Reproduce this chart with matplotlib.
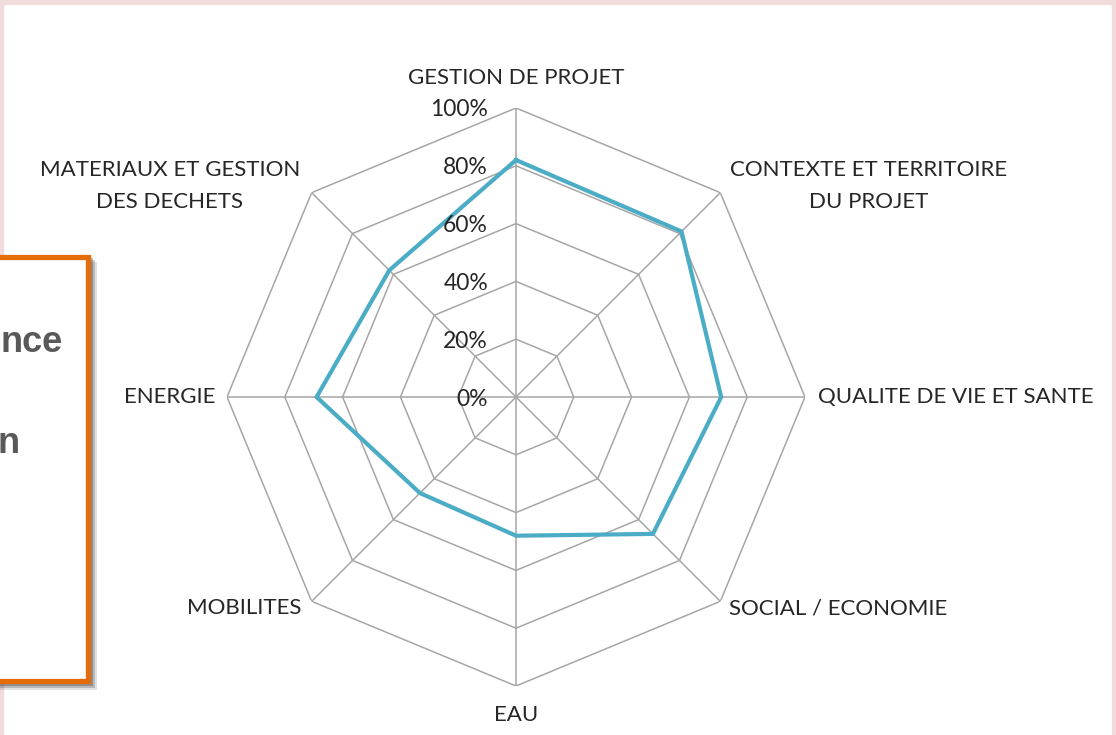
import numpy as np
import matplotlib
matplotlib.use("Agg")
import matplotlib.pyplot as plt
from matplotlib.patches import Rectangle


# chart data
categories = [
    "GESTION DE PROJET",
    "CONTEXTE ET TERRITOIRE\nDU PROJET",
    "QUALITE DE VIE ET SANTE",
    "SOCIAL / ECONOMIE",
    "EAU",
    "MOBILITES",
    "ENERGIE",
    "MATERIAUX ET GESTION\nDES DECHETS",
]
scores = [0.82, 0.81, 0.71, 0.67, 0.48, 0.47, 0.69, 0.62]
levels = [0.2, 0.4, 0.6, 0.8, 1.0]
level_labels = ["0%", "20%", "40%", "60%", "80%", "100%"]
box_lines = ["nce", "n"]

GRID = "#a6a6a6"
LINE = "#4bacc6"
ORANGE = "#e46c0a"
PINK = "#f2dcdb"
FONT = "Lato"

W, H = 1116, 735


def px(x, y, w, h):
    # pixel box (top-left origin) -> figure fraction
    return (x / W, 1 - (y + h) / H, w / W, h / H)


fig = plt.figure(figsize=(W / 100, H / 100), dpi=100)
fig.patch.set_facecolor("white")

# pink page frame
for (x, y, w, h) in [(0, 0, W, 4), (0, 0, 3, H), (W - 4, 0, 4, H)]:
    fig.patches.append(Rectangle(px(x, y, w, h)[:2], w / W, h / H,
                                 transform=fig.transFigure, color=PINK,
                                 zorder=0))

# radar
cx, cy, R = 516, 397, 289
ax = fig.add_axes(px(cx - R, cy - R, 2 * R, 2 * R), projection="polar")
ax.set_theta_offset(np.pi / 2)
ax.set_theta_direction(-1)
ax.set_ylim(0, 1)
ax.grid(False)
ax.set_xticks([])
ax.set_yticks([])
ax.spines["polar"].set_visible(False)
ax.patch.set_alpha(0)

n = len(categories)
angles = np.arange(n) * 2 * np.pi / n
closed = np.append(angles, angles[0])

for lv in levels:
    ax.plot(closed, [lv] * (n + 1), color=GRID, lw=1.1, zorder=1)
for a in angles:
    ax.plot([a, a], [0, 1], color=GRID, lw=1.1, zorder=1)

ax.plot(closed, scores + scores[:1], color=LINE, lw=3, zorder=3,
        solid_joinstyle="miter")

for i, lab in enumerate(level_labels):
    ax.annotate(lab, xy=(0, i * 0.2), xytext=(-28, -2),
                textcoords="offset pixels", ha="right", va="center",
                fontsize=16.5, family=FONT, color="#262626", zorder=4)

label_offsets = [(0, 30, "center"), (148, 7, "center"), (13, 0, "left"),
                 (9, -7, "left"), (0, -29, "center"), (-10, -7, "right"),
                 (-12, 0, "right"), (-142, 7, "center")]
for a, lab, (dx, dy, ha) in zip(angles, categories, label_offsets):
    ax.annotate(lab, xy=(a, 1), xytext=(dx, dy), textcoords="offset pixels",
                ha=ha, va="center", multialignment="center",
                fontsize=16, family=FONT, color="#262626",
                linespacing=1.75, annotation_clip=False)

# orange call-out box cut by the left edge, with a soft shadow
for k, alpha in enumerate([0.15, 0.25, 0.35]):
    off = 7 - 2 * k
    fig.patches.append(Rectangle(px(-20, 255 + off, 110 + off, 428)[:2],
                                 (110 + off) / W, 428 / H,
                                 transform=fig.transFigure,
                                 color="#404040", alpha=alpha, lw=0,
                                 zorder=5))
fig.patches.append(Rectangle(px(-20, 257, 108, 424)[:2], 108 / W, 424 / H,
                             transform=fig.transFigure, facecolor="white",
                             edgecolor=ORANGE, lw=3.8, zorder=6))
fig.text(63 / W, 1 - 352 / H, box_lines[0], ha="right", va="baseline",
         fontsize=26, fontweight="bold", family="Liberation Sans",
         color="#595959", zorder=7)
fig.text(20 / W, 1 - 453 / H, box_lines[1], ha="right", va="baseline",
         fontsize=26, fontweight="bold", family="Liberation Sans",
         color="#595959", zorder=7)

fig.savefig("out.png", dpi=100)
